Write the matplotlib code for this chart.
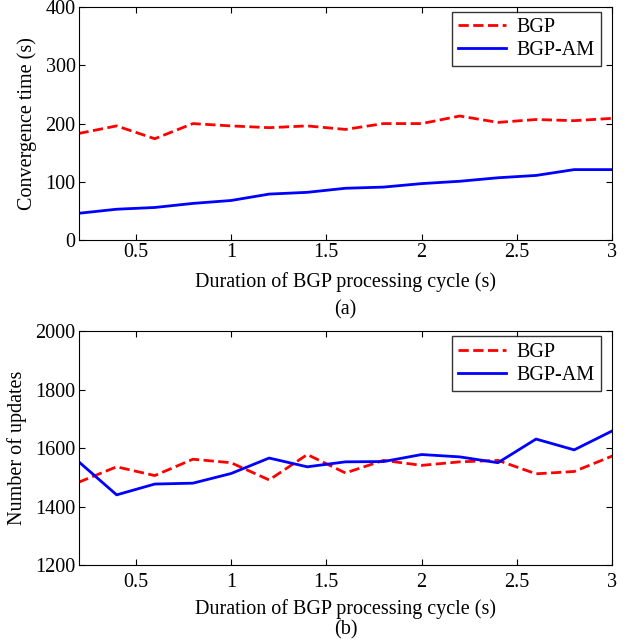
import numpy as np
import matplotlib.pyplot as plt

plt.rcParams['font.family'] = ['Liberation Serif', 'DejaVu Serif']
plt.rcParams['font.size'] = 14.5

cycle = [0.2, 0.4, 0.6, 0.8, 1.0, 1.2, 1.4, 1.6, 1.8, 2.0, 2.2, 2.4, 2.6, 2.8, 3.0]

conv_bgp = [183, 196, 174, 200, 196, 193, 196, 190, 200, 200, 213, 202, 207, 205, 209]
conv_bgpam = [46, 53, 56, 63, 68, 79, 82, 89, 91, 97, 101, 107, 111, 121, 121]

upd_bgp = [1483, 1536, 1506, 1562, 1550, 1491, 1578, 1515, 1558, 1541, 1553, 1558, 1512, 1520, 1573]
upd_bgpam = [1554, 1440, 1477, 1480, 1513, 1566, 1536, 1553, 1554, 1578, 1570, 1550, 1631, 1594, 1659]

fig = plt.figure(figsize=(6.28, 6.42), dpi=100)
ax1 = fig.add_axes([0.125, 0.626, 0.85, 0.363])
ax2 = fig.add_axes([0.125, 0.12, 0.85, 0.364])

def style(ax, pad, lpad):
  ax.tick_params(direction='in', top=True, right=True, length=4, pad=pad)
  ax.tick_params(axis='y', pad=2)
  ax.set_xlim(0.2, 3)
  ax.set_xticks([0.5, 1, 1.5, 2, 2.5, 3])
  ax.set_xticklabels(['0.5', '1', '1.5', '2', '2.5', '3'])
  ax.set_xlabel('Duration of BGP processing cycle (s)', labelpad=lpad)
  leg = ax.legend(loc='upper right', bbox_to_anchor=(0.978, 0.978),
                  fancybox=False, edgecolor='black',
                  handlelength=2.4, borderaxespad=0, labelspacing=0.2,
                  handletextpad=0.5, borderpad=0.3)
  leg.get_frame().set_linewidth(1.0)

ax1.plot(cycle, conv_bgp, 'r--', linewidth=2, label='BGP')
ax1.plot(cycle, conv_bgpam, 'b-', linewidth=2, label='BGP-AM')
ax1.set_ylim(0, 400)
ax1.set_yticks([0, 100, 200, 300, 400])
ax1.set_ylabel('Convergence time (s)', labelpad=6)
style(ax1, 2, 7)

ax2.plot(cycle, upd_bgp, 'r--', linewidth=2, label='BGP')
ax2.plot(cycle, upd_bgpam, 'b-', linewidth=2, label='BGP-AM')
ax2.set_ylim(1200, 2000)
ax2.set_yticks([1200, 1400, 1600, 1800, 2000])
ax2.set_ylabel('Number of updates', labelpad=6)
style(ax2, 6, 5)

fig.text(0.55, 0.518, '(a)', ha='center', va='center')
fig.text(0.55, 0.004, '(b)', ha='center', va='bottom')

plt.savefig('out.png', dpi=100)
